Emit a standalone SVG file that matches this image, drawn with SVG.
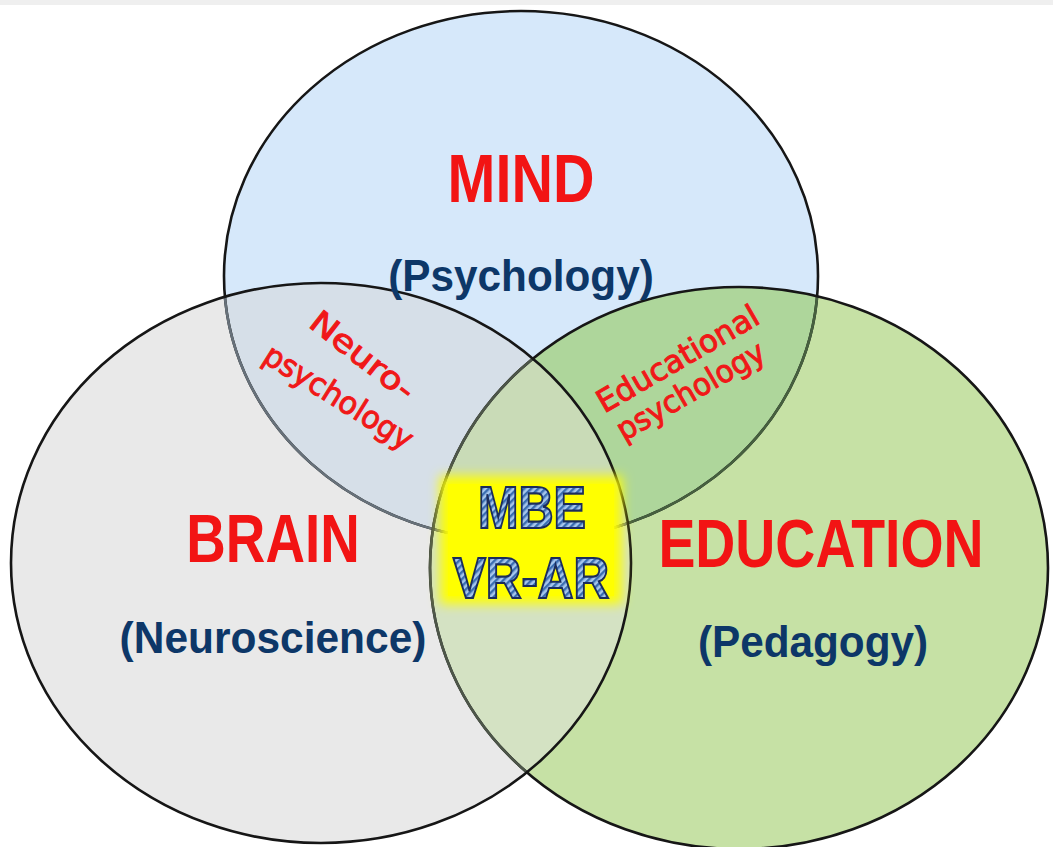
<svg xmlns="http://www.w3.org/2000/svg" xmlns:xlink="http://www.w3.org/1999/xlink" width="1053" height="847" viewBox="0 0 1053 847">
  <style>
    .title { font-family: "Liberation Sans", Arial, sans-serif; font-weight: bold; fill: #f21414; text-anchor: middle; }
    .sub { font-family: "Liberation Sans", Arial, sans-serif; font-weight: bold; fill: #0d3768; text-anchor: middle; }
    .comic { font-family: "DejaVu Sans", "Liberation Sans", sans-serif; fill: #f01818; stroke: #f01818; stroke-width: 1; text-anchor: middle; }
    .mbe { font-family: "Liberation Sans", Arial, sans-serif; font-weight: bold; fill: url(#stripes); stroke: #1b2c5c; stroke-width: 2.2; text-anchor: middle; }
    .dark { fill: none; stroke: #161616; stroke-width: 2.6; }
  </style>
  <defs>
    <ellipse id="mindShape" cx="521" cy="276" rx="297" ry="265"/>
    <ellipse id="brainShape" cx="321" cy="563" rx="310" ry="280"/>
    <ellipse id="eduShape" cx="739" cy="568" rx="309" ry="281"/>
    <clipPath id="clipMind"><use xlink:href="#mindShape"/></clipPath>
    <clipPath id="clipBrain"><use xlink:href="#brainShape"/></clipPath>
    <clipPath id="clipEdu"><use xlink:href="#eduShape"/></clipPath>
    <pattern id="stripes" width="5" height="5" patternUnits="userSpaceOnUse" patternTransform="rotate(45)">
      <rect width="5" height="5" fill="#a6c6ec"/>
      <rect width="2.4" height="5" fill="#3a6db0"/>
    </pattern>
    <filter id="glow" x="-20%" y="-20%" width="140%" height="140%">
      <feGaussianBlur stdDeviation="6"/>
    </filter>
  </defs>

  <rect width="1053" height="847" fill="#ffffff"/>
  <rect width="1053" height="5" fill="#efefef"/>

  <g id="mind">
    <use xlink:href="#mindShape" fill="#d6e8fa"/>
  </g>
  <g id="education">
    <use xlink:href="#eduShape" fill="#c6e1a5"/>
  </g>
  <g id="brain">
    <use xlink:href="#brainShape" fill="#e9e9e9"/>
  </g>

  <g id="overlaps">
    <use xlink:href="#brainShape" clip-path="url(#clipMind)" fill="#d6dfe8"/>
    <use xlink:href="#eduShape" clip-path="url(#clipMind)" fill="#aed69b"/>
    <use xlink:href="#eduShape" clip-path="url(#clipBrain)" fill="#d4e2c3"/>
    <g clip-path="url(#clipMind)">
      <use xlink:href="#eduShape" clip-path="url(#clipBrain)" fill="#c9dbb7"/>
    </g>
  </g>

  <g id="outlines">
    <use xlink:href="#mindShape" class="dark"/>
    <use xlink:href="#mindShape" clip-path="url(#clipEdu)" fill="none" stroke="#46603f" stroke-width="2.6"/>
    <use xlink:href="#mindShape" clip-path="url(#clipBrain)" fill="none" stroke="#67717a" stroke-width="2.6"/>
    <use xlink:href="#eduShape" class="dark"/>
    <use xlink:href="#eduShape" clip-path="url(#clipBrain)" fill="none" stroke="#4d5649" stroke-width="2.6"/>
    <use xlink:href="#brainShape" class="dark"/>
  </g>

  <g id="mind-labels">
    <text class="title" font-size="68" transform="translate(521,202) scale(0.845,1)">MIND</text>
    <text class="sub" font-size="45" transform="translate(521,291) scale(0.94,1)">(Psychology)</text>
  </g>
  <g id="brain-labels">
    <text class="title" font-size="68" transform="translate(273,562) scale(0.805,1)">BRAIN</text>
    <text class="sub" font-size="45" transform="translate(273,653) scale(0.944,1)">(Neuroscience)</text>
  </g>
  <g id="education-labels">
    <text class="title" font-size="68" transform="translate(821,567) scale(0.815,1)">EDUCATION</text>
    <text class="sub" font-size="45" transform="translate(813,657) scale(0.94,1)">(Pedagogy)</text>
  </g>

  <g id="neuropsychology">
    <text class="comic" font-size="31" transform="translate(356,364) rotate(38)" textLength="124" lengthAdjust="spacingAndGlyphs">Neuro-</text>
    <text class="comic" font-size="31" transform="translate(333,406) rotate(32)" textLength="170" lengthAdjust="spacingAndGlyphs">psychology</text>
  </g>
  <g id="educational-psychology">
    <text class="comic" font-size="31" transform="translate(683,368) rotate(-30)" textLength="182" lengthAdjust="spacingAndGlyphs">Educational</text>
    <text class="comic" font-size="31" transform="translate(696,400) rotate(-30)" textLength="166" lengthAdjust="spacingAndGlyphs">psychology</text>
  </g>

  <g id="mbe">
    <rect x="440" y="476" width="182" height="128" fill="#ffff00" filter="url(#glow)"/>
    <rect x="448" y="484" width="166" height="112" fill="#ffff00"/>
    <text class="mbe" x="532" y="528" font-size="60" textLength="108" lengthAdjust="spacingAndGlyphs">MBE</text>
    <text class="mbe" x="531" y="598" font-size="58" textLength="156" lengthAdjust="spacingAndGlyphs">VR-AR</text>
  </g>
</svg>
